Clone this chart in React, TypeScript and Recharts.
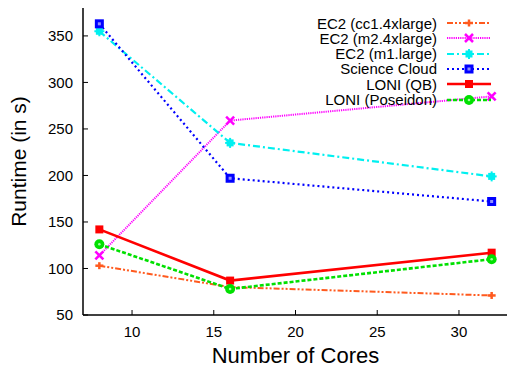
import React from 'react';
import { LineChart, Line, XAxis, YAxis, Legend } from 'recharts';

const cores = [8, 16, 32];
const ec2Cc1 = [103, 80, 71];
const ec2M2 = [114, 259, 285];
const ec2M1 = [355, 235, 199];
const scienceCloud = [363, 197, 172];
const loniQB = [142, 87, 117];
const loniPoseidon = [126, 78, 110];

const xTicks = [10, 15, 20, 25, 30];
const yTicks = [50, 100, 150, 200, 250, 300, 350];

const SERIES = [
  { key: 'cc1', name: 'EC2 (cc1.4xlarge)', values: ec2Cc1, color: '#ff5a1e', dash: '6 2 2 2 2 2', width: 2, marker: 'plus' },
  { key: 'm2', name: 'EC2 (m2.4xlarge)', values: ec2M2, color: '#ff00ff', dash: '1.2 1', width: 2, marker: 'x' },
  { key: 'm1', name: 'EC2 (m1.large)', values: ec2M1, color: '#00f0f0', dash: '7 3 2 3', width: 2.2, marker: 'star' },
  { key: 'sc', name: 'Science Cloud', values: scienceCloud, color: '#0000ff', dash: '2 3', width: 2.2, marker: 'boxsq' },
  { key: 'qb', name: 'LONI (QB)', values: loniQB, color: '#ff0000', dash: undefined, width: 2.6, marker: 'sq' },
  { key: 'pos', name: 'LONI (Poseidon)', values: loniPoseidon, color: '#00e000', dash: '4 2', width: 2.6, marker: 'circle' },
];

const data = cores.map((c, i) => {
  const row: Record<string, number> = { cores: c };
  SERIES.forEach((s) => {
    row[s.key] = s.values[i];
  });
  return row;
});

const FONT = '"Liberation Sans", Arial, Helvetica, sans-serif';

function Marker({ kind, color, x, y }: { kind: string; color: string; x: number; y: number }) {
  switch (kind) {
    case 'plus':
      return (
        <g>
          <line x1={x - 4} y1={y} x2={x + 4} y2={y} stroke={color} strokeWidth={2.5} />
          <line x1={x} y1={y - 3.5} x2={x} y2={y + 3.5} stroke={color} strokeWidth={2.5} />
        </g>
      );
    case 'x':
      return (
        <g>
          <line x1={x - 4} y1={y - 4} x2={x + 4} y2={y + 4} stroke={color} strokeWidth={2.5} />
          <line x1={x - 4} y1={y + 4} x2={x + 4} y2={y - 4} stroke={color} strokeWidth={2.5} />
        </g>
      );
    case 'star':
      return (
        <g>
          <rect x={x - 3.5} y={y - 3.5} width={7} height={7} fill={color} />
          <line x1={x - 5} y1={y} x2={x + 5} y2={y} stroke={color} strokeWidth={2} />
          <line x1={x} y1={y - 5} x2={x} y2={y + 5} stroke={color} strokeWidth={2} />
        </g>
      );
    case 'boxsq':
      return (
        <g>
          <rect x={x - 4.5} y={y - 4.5} width={9} height={9} fill={color} />
          <rect x={x - 1.5} y={y - 1.5} width={3} height={3} fill="#9090ff" />
        </g>
      );
    case 'sq':
      return <rect x={x - 4} y={y - 4} width={8} height={8} fill={color} />;
    case 'circle':
      return (
        <g>
          <circle cx={x} cy={y} r={5} fill={color} />
          <circle cx={x} cy={y} r={1.3} fill="#a0ffa0" />
        </g>
      );
    default:
      return null;
  }
}

const makeDot = (kind: string, color: string) => (props: any) => {
  const { cx, cy, index } = props;
  if (cx == null || cy == null) return <g key={`d-${kind}-${index}`} />;
  return (
    <g key={`d-${kind}-${index}`}>
      <Marker kind={kind} color={color} x={cx} y={cy} />
    </g>
  );
};

const renderLegend = () => (
  <div style={{ fontFamily: FONT, fontSize: 15, color: '#000' }}>
    {SERIES.map((s) => (
      <div key={s.key} style={{ display: 'flex', alignItems: 'center', height: 15.3, lineHeight: '15.3px' }}>
        <span style={{ width: 157, textAlign: 'right', whiteSpace: 'nowrap' }}>{s.name}</span>
        <svg width={44} height={14} style={{ marginLeft: 10, overflow: 'visible' }}>
          <line x1={0} y1={7} x2={44} y2={7} stroke={s.color} strokeWidth={s.width} strokeDasharray={s.dash} />
          <Marker kind={s.marker} color={s.color} x={22} y={7} />
        </svg>
      </div>
    ))}
  </div>
);

export default function App() {
  return (
    <div style={{ position: 'absolute', left: 0, top: 0, width: 507, height: 369, overflow: 'hidden', background: '#fff' }}>
      <LineChart width={508} height={369} data={data} margin={{ top: 8, right: 0, bottom: 0, left: 0 }}>
        <XAxis
          xAxisId="b"
          dataKey="cores"
          type="number"
          domain={[7, 33]}
          ticks={xTicks}
          interval={0}
          height={54}
          tickSize={-5}
          tickMargin={16}
          axisLine={{ stroke: '#000', strokeWidth: 1.5 }}
          tickLine={{ stroke: '#000', strokeWidth: 1 }}
          tick={{ fill: '#000', fontSize: 15, fontFamily: FONT }}
          label={{ value: 'Number of Cores', position: 'insideBottom', offset: 6, style: { fill: '#000', fontSize: 22, fontFamily: FONT } }}
        />
        <XAxis
          xAxisId="t"
          dataKey="cores"
          type="number"
          orientation="top"
          domain={[7, 33]}
          ticks={xTicks}
          interval={0}
          height={0}
          tickSize={-5}
          tick={false}
          axisLine={{ stroke: '#000', strokeWidth: 1.5 }}
          tickLine={{ stroke: '#000', strokeWidth: 1 }}
        />
        <YAxis
          yAxisId="l"
          type="number"
          domain={[50, 380]}
          ticks={yTicks}
          interval={0}
          width={83}
          tickSize={-5}
          tickMargin={15}
          axisLine={{ stroke: '#000', strokeWidth: 1.5 }}
          tickLine={{ stroke: '#000', strokeWidth: 1 }}
          tick={{ fill: '#000', fontSize: 15, fontFamily: FONT }}
          label={{ value: 'Runtime (in s)', angle: -90, position: 'insideLeft', offset: 19, style: { textAnchor: 'middle', fill: '#000', fontSize: 21, fontFamily: FONT } }}
        />
        <YAxis
          yAxisId="r"
          type="number"
          orientation="right"
          domain={[50, 380]}
          ticks={yTicks}
          interval={0}
          width={0}
          tickSize={-5}
          tick={false}
          axisLine={{ stroke: '#000', strokeWidth: 1.5 }}
          tickLine={{ stroke: '#000', strokeWidth: 1 }}
        />
        <Legend
          layout="horizontal"
          verticalAlign="middle"
          align="center"
          content={renderLegend}
          wrapperStyle={{ position: 'absolute', top: 15.5, left: 280, width: 215, height: 95 }}
        />
        {SERIES.map((s) => (
          <Line
            key={s.key}
            xAxisId="b"
            yAxisId="l"
            type="linear"
            dataKey={s.key}
            name={s.name}
            stroke={s.color}
            strokeWidth={s.width}
            strokeDasharray={s.dash}
            dot={makeDot(s.marker, s.color)}
            activeDot={false}
            isAnimationActive={false}
          />
        ))}
      </LineChart>
    </div>
  );
}
